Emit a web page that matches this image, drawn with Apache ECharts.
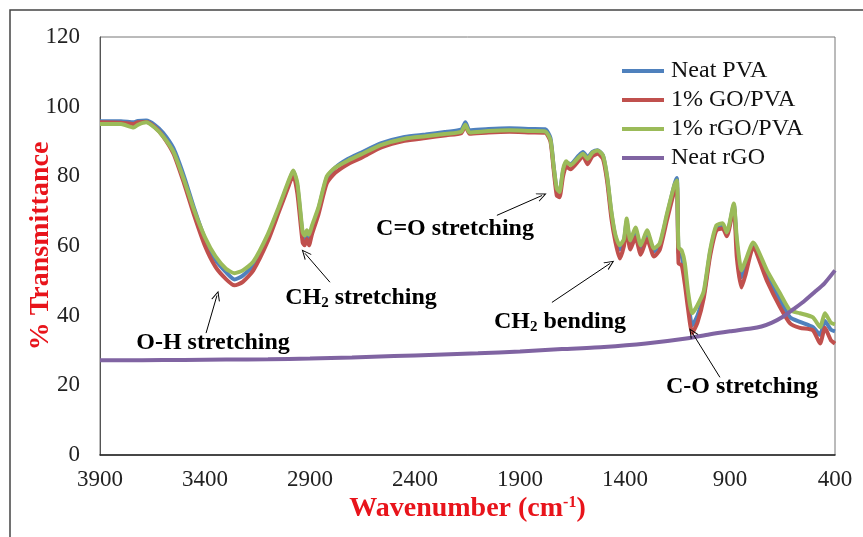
<!DOCTYPE html>
<html>
<head>
<meta charset="utf-8">
<script src="https://cdn.jsdelivr.net/npm/echarts@6/dist/echarts.min.js"></script>
<style>
  html, body { margin: 0; padding: 0; background: #fff; }
  #chart { width: 863px; height: 537px; }
</style>
</head>
<body>
<div id="chart"></div>
<script>
// wavenumber grid shared by the three PVA films
var wn = [3900, 3800, 3740, 3720, 3680, 3640, 3600, 3550, 3500, 3450, 3400, 3350, 3300, 3260, 3220, 3170,
  3100, 3050, 3000, 2980, 2960, 2935, 2925, 2915, 2905, 2890, 2860, 2820, 2780, 2720, 2650, 2560,
  2450, 2350, 2250, 2180, 2160, 2140, 2050, 1950, 1850, 1780, 1755, 1740, 1725, 1712, 1695, 1680,
  1660, 1620, 1600, 1578, 1555, 1530, 1505, 1485, 1465, 1445, 1425, 1405, 1392, 1375, 1350, 1325,
  1295, 1262, 1235, 1200, 1165, 1153, 1145, 1130, 1115, 1100, 1080, 1055, 1025, 995, 965, 935,
  915, 882, 868, 845, 825, 790, 724, 662, 614, 567, 505, 471, 448, 420, 400];

var neatPVA = [95.8, 95.8, 95.5, 95.9, 96.0, 94.8, 92.5, 88, 80, 70.5, 62, 56, 52.5, 50.4, 51.5, 54.5,
  63, 70.5, 78.5, 81.5, 77, 63, 61.8, 63.5, 62, 65, 70.5, 79.5, 82.5, 85, 87, 89.5,
  91.3, 92, 92.8, 93.4, 95.5, 93.2, 93.6, 93.8, 93.6, 93.5, 91, 83, 76, 75.5, 81.5, 84,
  83.5, 86, 87, 85.5, 87, 87.5, 86, 79.5, 69.5, 62.5, 59, 61.5, 67, 61, 64.5, 59.5,
  64, 58.5, 60, 68.8, 77.5, 79.5, 58, 57, 52, 45, 37.2, 40, 46, 58, 65.2, 65.8,
  63.5, 71.8, 61, 51, 54.5, 60.5, 51.5, 44.5, 39.5, 38.2, 36.7, 34.5, 38.5, 36, 35.5];

var goPVA = [95.5, 95.4, 95.0, 95.5, 95.6, 94.2, 91.5, 86.5, 78, 68.5, 60, 54, 50.5, 48.7, 49.7, 53,
  61.5, 69.5, 77.5, 80.5, 75, 61, 60.2, 62, 60.2, 63.5, 69, 78, 81, 83.5, 85.5, 88.3,
  90.2, 91, 91.8, 92.4, 94.5, 92.2, 92.6, 92.8, 92.6, 92.5, 90, 82, 74.5, 74, 80, 82.8,
  82, 84.5, 85.8, 83.5, 85.8, 86.5, 85, 78.5, 68, 61, 56.4, 60, 65, 59, 62.5, 57.5,
  62, 57, 58.8, 67.5, 75.8, 77.5, 55, 54.5, 49, 42, 35, 38, 45, 57, 64.5, 65,
  62.8, 71, 57, 48.1, 52, 59.5, 50, 42.5, 37.8, 36.5, 35.8, 32, 36.5, 33, 32];

var rgoPVA = [95.0, 95.0, 94.0, 94.8, 95.5, 94, 91.5, 87, 79, 70, 62.5, 57, 53.5, 52.2, 53, 55.5,
  63.5, 71, 79, 81.7, 78, 64, 63, 64.5, 63.2, 66, 71, 80, 82.5, 84.5, 86.5, 89,
  90.8, 91.5, 92.2, 92.8, 94.8, 92.6, 93.0, 93.2, 93.0, 92.9, 90.5, 83, 76.5, 75.5, 82, 84.3,
  83.2, 85.5, 86.5, 85, 86.8, 87.4, 86, 80, 70, 63, 60.2, 62, 67.9, 61.6, 65.3, 60.2,
  64.5, 59.3, 60.7, 69.3, 77.5, 78.8, 59.6, 58.7, 55, 47, 40.7, 43, 47, 58.7, 65.9, 66.5,
  63.9, 72.2, 62.5, 53, 56, 61, 53, 46.4, 41.5, 40.7, 39.5, 36.7, 40.7, 38, 37.5];

// neat rGO has its own (coarser) grid
var rgoWn = [3900, 3700, 3500, 3300, 3100, 2900, 2700, 2500, 2300, 2100, 1900, 1700, 1500, 1300,
  1100, 1000, 900, 800, 750, 700, 650, 600, 550, 500, 450, 400];
var neatRGO = [27.2, 27.2, 27.3, 27.4, 27.5, 27.7, 28.0, 28.4, 28.8, 29.2, 29.7, 30.4, 31.0, 32.0,
  33.5, 34.6, 35.5, 36.3, 36.9, 38.0, 39.6, 41.8, 44.0, 46.6, 49.3, 53.0];

var seriesNames = ['Neat PVA', '1% GO/PVA', '1% rGO/PVA', 'Neat rGO'];
var seriesColors = ['#4f81bd', '#c0504d', '#9bbb59', '#8064a2'];

// arrows: [tail, head] in (wavenumber, %T)
var arrows = [
  [[3395, 35.0], [3343, 45.8]],
  [[2805, 49.6], [2924, 57.9]],
  [[2010, 68.8], [1795, 74.5]],
  [[1748, 43.8], [1471, 55.0]],
  [[948, 22.3], [1081, 35.2]]
];

var serif = '"Liberation Serif", "Times New Roman", serif';
var annoFont = 'bold 24px ' + serif;

function pairs(xs, ys) {
  return xs.map(function (x, i) { return [x, ys[i]]; });
}

var chart = echarts.init(document.getElementById('chart'));

var values = [neatPVA, goPVA, rgoPVA];
var series = values.map(function (v, i) {
  return {
    name: seriesNames[i],
    type: 'line',
    data: pairs(wn, v),
    showSymbol: false,
    smooth: 0.2,
    lineStyle: { width: 4, color: seriesColors[i] },
    itemStyle: { color: seriesColors[i] }
  };
});
series.push({
  name: seriesNames[3],
  type: 'line',
  data: pairs(rgoWn, neatRGO),
  showSymbol: false,
  smooth: 0.2,
  lineStyle: { width: 4, color: seriesColors[3] },
  itemStyle: { color: seriesColors[3] },
  markLine: {
    silent: true,
    animation: false,
    symbol: ['none', 'path://M5,0 L10,10 L8.8,10 L5,2.4 L1.2,10 L0,10 Z'],
    symbolSize: [9, 10],
    label: { show: false },
    lineStyle: { color: '#000', width: 1, type: 'solid' },
    data: arrows.map(function (a) {
      return [{ coord: a[0] }, { coord: a[1] }];
    })
  }
});

// CH2 的下标
var subRich = {
  m: { fontFamily: serif, fontWeight: 'bold', fontSize: 24, lineHeight: 26 },
  sub: { fontFamily: serif, fontWeight: 'bold', fontSize: 15, lineHeight: 15, verticalAlign: 'bottom' }
};

chart.setOption({
  animation: false,
  grid: { left: 100, right: 28, top: 37, bottom: 82, show: true, borderColor: '#777', borderWidth: 1 },
  legend: {
    orient: 'vertical',
    left: 617,
    top: 54,
    itemWidth: 42,
    itemHeight: 4,
    itemGap: 5,
    icon: 'rect',
    data: seriesNames,
    textStyle: { fontFamily: serif, fontSize: 24, color: '#111', padding: [0, 0, 0, 2] }
  },
  xAxis: {
    type: 'value',
    inverse: true,
    min: 400,
    max: 3900,
    interval: 500,
    name: 'Wavenumber (cm{sup|-1})',
    nameLocation: 'middle',
    nameGap: 40,
    nameMoveOverlap: false,
    nameTextStyle: {
      fontFamily: serif, fontWeight: 'bold', fontSize: 28, color: '#e8141b',
      rich: { sup: { fontFamily: serif, fontWeight: 'bold', fontSize: 16, color: '#e8141b', verticalAlign: 'top', lineHeight: 16 } }
    },
    axisLine: { show: true, lineStyle: { color: '#222', width: 1.5 } },
    axisTick: { show: false },
    splitLine: { show: false },
    axisLabel: { margin: 13, fontFamily: serif, fontSize: 23, color: '#222',
      formatter: function (v) { return String(v); } }
  },
  yAxis: {
    type: 'value',
    min: 0,
    max: 120,
    interval: 20,
    name: '% Transmittance',
    nameLocation: 'middle',
    nameGap: 45,
    nameMoveOverlap: false,
    nameTextStyle: { fontFamily: serif, fontWeight: 'bold', fontSize: 28, color: '#e8141b' },
    axisLine: { show: true, lineStyle: { color: '#555', width: 1 } },
    axisTick: { show: false },
    splitLine: { show: false },
    axisLabel: { margin: 20, fontFamily: serif, fontSize: 23, color: '#222' }
  },
  graphic: [
    { type: 'polyline', shape: { points: [[10, 537], [10, 10], [863, 10]] }, style: { stroke: '#444', lineWidth: 1.5, fill: null } },
    { type: 'text', x: 213, y: 343, style: { text: 'O-H stretching', font: annoFont, fill: '#000', align: 'center', verticalAlign: 'middle' } },
    { type: 'text', x: 361, y: 298, style: { text: '{m|CH}{sub|2}{m| stretching}', align: 'center', verticalAlign: 'middle', rich: subRich, fill: '#000' } },
    { type: 'text', x: 455, y: 229, style: { text: 'C=O stretching', font: annoFont, fill: '#000', align: 'center', verticalAlign: 'middle' } },
    { type: 'text', x: 560, y: 322, style: { text: '{m|CH}{sub|2}{m| bending}', align: 'center', verticalAlign: 'middle', rich: subRich, fill: '#000' } },
    { type: 'text', x: 742, y: 387, style: { text: 'C-O stretching', font: annoFont, fill: '#000', align: 'center', verticalAlign: 'middle' } }
  ],
  series: series
});
</script>
</body>
</html>
